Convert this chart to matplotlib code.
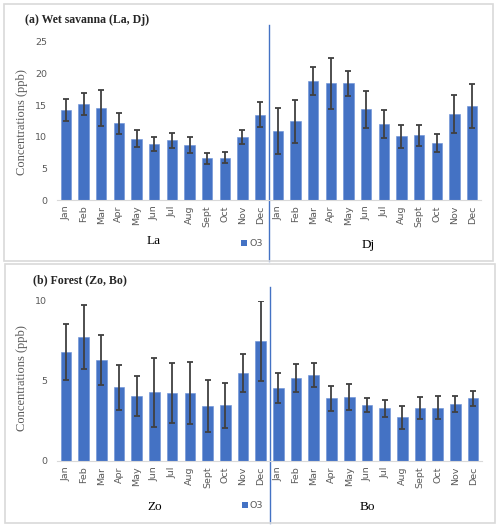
import numpy as np
import matplotlib
matplotlib.use("Agg")
import matplotlib.pyplot as plt
from matplotlib.patches import Rectangle
import matplotlib.transforms as mtransforms

months = ["Jan", "Feb", "Mar", "Apr", "May", "Jun", "Jul", "Aug", "Sept", "Oct", "Nov", "Dec"]

# (a) wet savanna
la_mean = [14.2, 15.1, 14.6, 12.1, 9.7, 8.85, 9.4, 8.7, 6.6, 6.7, 9.9, 13.5]
la_err = [1.8, 1.75, 2.85, 1.6, 1.3, 1.1, 1.2, 1.3, 0.9, 0.9, 1.1, 1.9]
dj_mean = [10.9, 12.4, 18.8, 18.4, 18.4, 14.3, 12.0, 10.05, 10.2, 9.0, 13.6, 14.85]
dj_err = [3.6, 3.4, 2.2, 4.0, 1.9, 2.9, 2.2, 1.8, 1.7, 1.35, 3.0, 3.5]

# (b) forest
zo_mean = [6.8, 7.75, 6.32, 4.59, 4.07, 4.28, 4.24, 4.24, 3.41, 3.47, 5.47, 7.48]
zo_err = [1.75, 2.0, 1.57, 1.4, 1.25, 2.13, 1.9, 1.95, 1.63, 1.42, 1.18, 2.5]
bo_mean = [4.57, 5.18, 5.34, 3.91, 3.97, 3.51, 3.28, 2.72, 3.33, 3.33, 3.56, 3.91]
bo_err = [0.93, 0.86, 0.75, 0.76, 0.81, 0.44, 0.53, 0.73, 0.68, 0.7, 0.48, 0.48]

W, H = 500, 528
BLUE = "#4472C4"
GRAY = "#595959"
SERIF = "Liberation Serif"


def fx(x):
    return x / W


def fy(y):
    return 1 - y / H


fig = plt.figure(figsize=(W / 100, H / 100), dpi=100)


def panel(box, ax_box, means, errs, ymax, yticks, title, title_xy, left_name, right_name,
          left_xy, right_xy, legend_xy, sep_span, ylabel_y):
    # grey frame around the panel
    x0, y0, x1, y1 = box
    fig.patches.append(Rectangle((fx(x0), fy(y1)), fx(x1 - x0), (y1 - y0) / H,
                                 transform=fig.transFigure, fill=False,
                                 edgecolor="#D9D9D9", linewidth=1.2))

    ax_l, ax_top, ax_r, ax_bot = ax_box
    ax = fig.add_axes([fx(ax_l), fy(ax_bot), fx(ax_r - ax_l), (ax_bot - ax_top) / H])
    x = np.arange(len(means))
    ax.bar(x, means, width=0.6, color=BLUE, edgecolor="#6A8FD6", linewidth=0.4, zorder=2)
    ax.errorbar(x, means, yerr=errs, fmt="none", ecolor="#404040", elinewidth=1.3,
                capsize=2.3, capthick=1.3, zorder=3)

    ax.set_xlim(-0.5, len(means) - 0.5)
    ax.set_ylim(0, ymax)
    ax.set_yticks(yticks)
    ax.set_yticklabels([str(t) for t in yticks], fontsize=6.8, color=GRAY)
    ax.set_xticks(x)
    ax.set_xticklabels(months + months, rotation=90, fontsize=6.8, color=GRAY)
    ax.tick_params(axis="x", length=0, pad=4)
    ax.tick_params(axis="y", length=0, pad=7)
    for s in ["top", "right", "left"]:
        ax.spines[s].set_visible(False)
    ax.spines["bottom"].set_color("#D9D9D9")

    fig.text(fx(22), fy(ylabel_y), "Concentrations (ppb)", family=SERIF, fontsize=9,
             color=GRAY, rotation=90, ha="center", va="center")

    # blue line between the two sites
    trans = mtransforms.blended_transform_factory(ax.transData, ax.transAxes)
    ax.plot([11.5, 11.5], sep_span, color=BLUE, linewidth=1, transform=trans, clip_on=False)

    fig.text(fx(title_xy[0]), fy(title_xy[1]), title, family=SERIF, fontweight="bold",
             fontsize=8.5, color="#262626", va="center")
    fig.text(fx(left_xy[0]), fy(left_xy[1]), left_name, family=SERIF, fontsize=9.5,
             color="black", ha="center", va="center")
    fig.text(fx(right_xy[0]), fy(right_xy[1]), right_name, family=SERIF, fontsize=9.5,
             color="black", ha="center", va="center")

    lx, ly = legend_xy
    fig.patches.append(Rectangle((fx(lx), fy(ly + 3)), fx(6), 6 / H, transform=fig.transFigure,
                                 facecolor=BLUE, edgecolor="none"))
    fig.text(fx(lx + 8), fy(ly), "O3", fontsize=6.8, color=GRAY, va="center")
    return ax


panel((4, 4, 493, 261), (57, 41.7, 481, 200), la_mean + dj_mean, la_err + dj_err,
      25, [0, 5, 10, 15, 20, 25], "(a) Wet savanna (La, Dj)", (25, 20),
      "La", "Dj", (154, 241), (368, 245), (241, 243), [-0.385, 1.105], 122)

panel((5, 264, 495, 523), (57, 300.7, 482, 461), zo_mean + bo_mean, zo_err + bo_err,
      10, [0, 5, 10], "(b) Forest (Zo, Bo)", (33, 280),
      "Zo", "Bo", (155, 507), (367, 507), (242, 505), [-0.387, 1.085], 378)

fig.savefig("out.png", dpi=100)
